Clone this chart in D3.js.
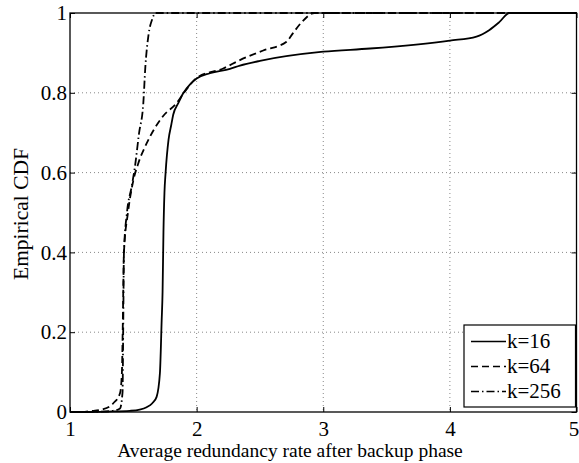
<!DOCTYPE html>
<html>
<head>
<meta charset="utf-8">
<script src="https://cdn.jsdelivr.net/npm/d3@7"></script>
<style>
  body { margin: 0; background: #fff; }
  text { font-family: "Liberation Serif", "Times New Roman", serif; fill: #000; }
</style>
</head>
<body>
<script>
// data (x = avg redundancy rate, y = empirical CDF)
let k16X = [1.0, 1.15, 1.3, 1.474, 1.55, 1.605, 1.65, 1.684, 1.71, 1.724, 1.731, 1.738, 1.746, 1.755, 1.778, 1.8, 1.815, 1.855, 1.894, 1.95, 2.0, 2.105, 2.263, 2.342, 2.5, 3.0, 3.37, 4.0, 4.21, 4.31, 4.39, 4.47, 5.0];
let k16Y = [0, 0, 0.001, 0.003, 0.006, 0.012, 0.022, 0.038, 0.097, 0.23, 0.3, 0.45, 0.55, 0.6, 0.682, 0.72, 0.745, 0.774, 0.799, 0.822, 0.836, 0.849, 0.86, 0.868, 0.88, 0.903, 0.911, 0.931, 0.941, 0.957, 0.977, 1.0, 1.0];

let k64X = [1.0, 1.1, 1.158, 1.263, 1.342, 1.395, 1.41, 1.416, 1.426, 1.458, 1.5, 1.539, 1.605, 1.736, 1.842, 1.9, 2.0, 2.21, 2.342, 2.526, 2.71, 2.76, 2.83, 2.93, 5.0];
let k64Y = [0, 0, 0.002, 0.007, 0.022, 0.047, 0.1, 0.2, 0.4, 0.5, 0.58, 0.623, 0.673, 0.742, 0.774, 0.8, 0.837, 0.861, 0.882, 0.906, 0.928, 0.949, 0.977, 1.0, 1.0];

let k256X = [1.0, 1.1, 1.25, 1.34, 1.395, 1.415, 1.42, 1.426, 1.45, 1.487, 1.513, 1.545, 1.579, 1.595, 1.62, 1.65, 1.675, 5.0];
let k256Y = [0, 0, 0.001, 0.003, 0.009, 0.05, 0.2, 0.4, 0.5, 0.565, 0.615, 0.698, 0.774, 0.865, 0.945, 0.985, 1.0, 1.0];

let seriesNames = ["k=16", "k=64", "k=256"];
let xTicks = [1, 2, 3, 4, 5];
let yTicks = [0, 0.2, 0.4, 0.6, 0.8, 1];

let width = 579, height = 463;
let margin = { left: 70, right: 2.5, top: 13, bottom: 51 };
let w = width - margin.left - margin.right,
    h = height - margin.top - margin.bottom;

let x = d3.scaleLinear().domain([1, 5]).range([0, w]);
let y = d3.scaleLinear().domain([0, 1]).range([h, 0]);

let svg = d3.select("body").append("svg")
    .attr("width", width)
    .attr("height", height);

let g = svg.append("g")
    .attr("transform", `translate(${margin.left},${margin.top})`);

// dotted grid
g.selectAll(".gx").data(xTicks.slice(1, -1)).enter().append("line")
    .attr("x1", d => x(d)).attr("x2", d => x(d))
    .attr("y1", 0).attr("y2", h)
    .attr("stroke", "#888").attr("stroke-width", 1)
    .attr("stroke-dasharray", "1,3");
g.selectAll(".gy").data(yTicks.slice(1, -1)).enter().append("line")
    .attr("y1", d => y(d)).attr("y2", d => y(d))
    .attr("x1", 0).attr("x2", w)
    .attr("stroke", "#888").attr("stroke-width", 1)
    .attr("stroke-dasharray", "1,3");

// axes, MATLAB-style inward ticks on all four sides
let xAxis = d3.axisBottom(x).tickValues(xTicks).tickFormat(d3.format("d")).tickSizeInner(-5).tickSizeOuter(0).tickPadding(9);
let yAxis = d3.axisLeft(y).tickValues(yTicks).tickFormat(d => d === 0 || d === 1 ? d : d3.format(".1f")(d)).tickSizeInner(-5).tickSizeOuter(0).tickPadding(3);

g.append("g").attr("class", "axis x")
    .attr("transform", `translate(0,${h})`)
    .call(xAxis);
g.append("g").attr("class", "axis y")
    .call(yAxis);
g.append("g")
    .call(d3.axisTop(x).tickValues(xTicks).tickSizeInner(-5).tickSizeOuter(0).tickFormat(""));
g.append("g")
    .attr("transform", `translate(${w},0)`)
    .call(d3.axisRight(y).tickValues(yTicks).tickSizeInner(-5).tickSizeOuter(0).tickFormat(""));

g.selectAll(".domain").remove();
g.selectAll(".tick line").attr("stroke", "#000");
g.selectAll(".axis").attr("font-family", '"Liberation Serif", serif').attr("font-size", 21);
g.selectAll(".tick text").attr("fill", "#000");
// last x label sits on the window edge; pull it in a little
g.selectAll(".axis.x .tick text").filter(d => d === 5).attr("dx", -3);

g.append("rect")
    .attr("width", w).attr("height", h)
    .attr("fill", "none").attr("stroke", "#000").attr("stroke-width", 1.3);

// curves
let line = d3.line()
    .x(d => x(d[0]))
    .y(d => y(d[1]))
    .curve(d3.curveMonotoneX);

let series = [
    { xs: k16X, ys: k16Y, dash: null },
    { xs: k64X, ys: k64Y, dash: "7,4" },
    { xs: k256X, ys: k256Y, dash: "8,3,1.5,3" }
];

let plot = g.append("g");
series.forEach(s => {
    plot.append("path")
        .attr("d", line(d3.zip(s.xs, s.ys)))
        .attr("fill", "none")
        .attr("stroke", "#000")
        .attr("stroke-width", 1.8)
        .attr("stroke-dasharray", s.dash);
});

// axis labels
svg.append("text")
    .attr("x", 290)
    .attr("y", 457)
    .attr("text-anchor", "middle")
    .style("font-size", "19.5px")
    .text("Average redundancy rate after backup phase");

svg.append("text")
    .attr("transform", "translate(28,214) rotate(-90)")
    .attr("text-anchor", "middle")
    .style("font-size", "21.5px")
    .text("Empirical CDF");

// legend
let lg = svg.append("g").attr("transform", "translate(464,325)");
lg.append("rect")
    .attr("width", 111.5).attr("height", 82)
    .attr("fill", "#fff").attr("stroke", "#000").attr("stroke-width", 1.2);
seriesNames.forEach((name, i) => {
    let yy = 16.5 + i * 25;
    lg.append("line")
        .attr("x1", 7).attr("x2", 42)
        .attr("y1", yy).attr("y2", yy)
        .attr("stroke", "#000").attr("stroke-width", 1.6)
        .attr("stroke-dasharray", series[i].dash);
    lg.append("text")
        .attr("x", 43).attr("y", yy + 6.5)
        .style("font-size", "21px")
        .text(name);
});
</script>
</body>
</html>
